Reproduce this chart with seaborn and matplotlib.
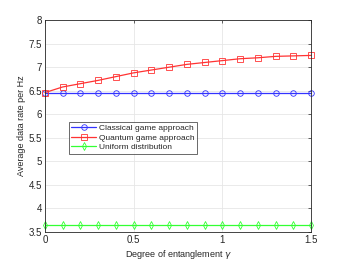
import matplotlib
matplotlib.use("Agg")
import matplotlib.pyplot as plt
import seaborn as sns
import pandas as pd

gamma = [0.0, 0.1, 0.2, 0.3, 0.4, 0.5, 0.6, 0.7, 0.8, 0.9, 1.0, 1.1, 1.2, 1.3, 1.4, 1.5]
classical = [6.46] * 16
quantum = [6.46, 6.58, 6.65, 6.72, 6.80, 6.88, 6.94, 7.00, 7.06, 7.10, 7.14, 7.18, 7.20, 7.23, 7.24, 7.25]
uniform = [3.65] * 16
labels = ["Classical game approach", "Quantum game approach", "Uniform distribution"]

df = pd.DataFrame({"gamma": gamma * 3,
                   "rate": classical + quantum + uniform,
                   "series": [labels[0]] * 16 + [labels[1]] * 16 + [labels[2]] * 16})

sns.set_style("white")
plt.rcParams['font.family'] = ['Liberation Sans', 'DejaVu Sans']

fig = plt.figure(figsize=(3.45, 2.61), dpi=100)
ax = fig.add_axes([0.130, 0.111, 0.772, 0.812])

colors = ["#3333ff", "#ff3333", "#33ff33"]
markers = ["o", "s", "d"]
for lab, c, m in zip(labels, colors, markers):
    sub = df[df.series == lab]
    sns.lineplot(data=sub, x="gamma", y="rate", ax=ax, color=c, marker=m,
                 linewidth=0.9, label=lab)
    ln = ax.lines[-1]
    ln.set_markersize(4)
    ln.set_markerfacecolor("none")
    ln.set_markeredgecolor(c)
    ln.set_markeredgewidth(0.6)
    ln.set_clip_on(False)

ax.set_xlim(0, 1.5)
ax.set_ylim(3.5, 8)
ax.set_xticks([0, 0.5, 1, 1.5])
ax.set_xticklabels(["0", "0.5", "1", "1.5"])
ax.set_yticks([3.5, 4, 4.5, 5, 5.5, 6, 6.5, 7, 7.5, 8])
ax.set_yticklabels(["3.5", "4", "4.5", "5", "5.5", "6", "6.5", "7", "7.5", "8"])
ax.grid(True, color="#e6e6e6", linewidth=0.6)
ax.set_axisbelow(True)
ax.tick_params(direction="in", length=2.5, width=0.5, labelsize=7, colors="#262626",
               top=True, right=True, pad=2)
for s in ax.spines.values():
    s.set_color("#262626")
    s.set_linewidth(0.6)
ax.set_xlabel("Degree of entanglement $\\gamma$", fontsize=6.5, color="#262626", labelpad=2)
ax.set_ylabel("Average data rate per Hz", fontsize=6.5, color="#262626", labelpad=2)

leg = ax.legend(loc="upper left", bbox_to_anchor=(0.09, 0.52), fontsize=6,
                frameon=True, fancybox=False, borderpad=0.3, labelspacing=0.2,
                handlelength=3, handletextpad=0.3, borderaxespad=0)
leg.get_frame().set_edgecolor("#262626")
leg.get_frame().set_linewidth(0.6)
for h, c in zip(leg.get_lines(), colors):
    h.set_markerfacecolor("none")
    h.set_markeredgecolor(c)
    h.set_markersize(4)
    h.set_markeredgewidth(0.6)

fig.savefig("out.png", dpi=100)
